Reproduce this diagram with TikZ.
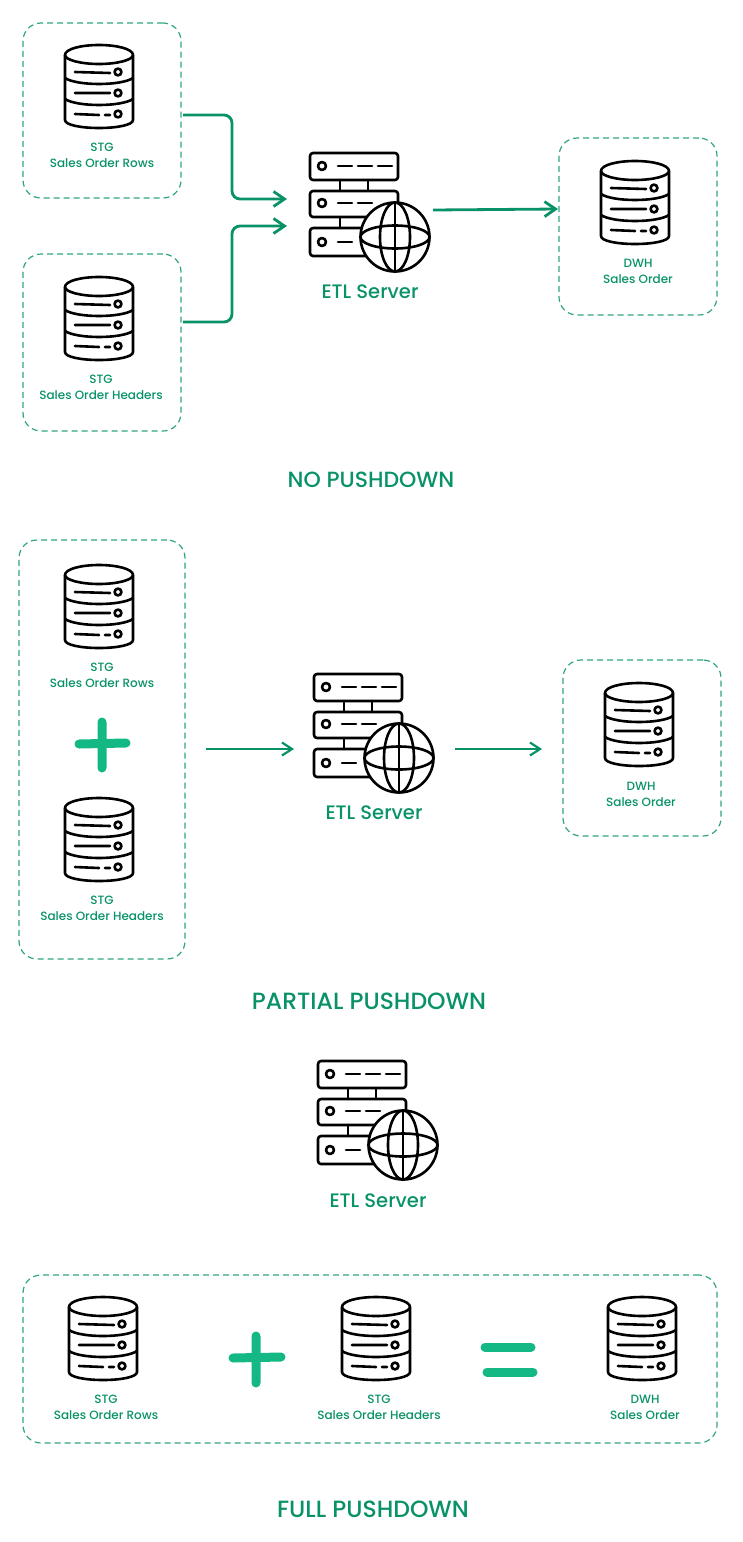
\documentclass[tikz,border=0pt]{standalone}
\usepackage{fontspec}
\setmainfont{Poppins Medium}
\usetikzlibrary{arrows.meta}
\definecolor{ink}{HTML}{099268}
\definecolor{dashc}{HTML}{2FA67F}
\definecolor{markc}{HTML}{14B885}
\tikzset{
  x=1pt,y=-1pt,
  dframe/.style={draw=dashc,line width=1.2pt,dash pattern=on 6pt off 4pt,rounded corners=18pt,inner sep=0pt},
  lbl/.style={text=ink,font=\fontsize{12}{16}\selectfont,align=center,inner sep=0pt},
  etl/.style={text=ink,font=\fontsize{19.5}{20}\selectfont,inner sep=0pt},
  ttl/.style={text=ink,font=\fontsize{22}{24}\selectfont,inner sep=0pt},
  ttlb/.style={text=ink,font=\fontsize{23.5}{24}\selectfont,inner sep=0pt},
  ico/.style={draw=black,line width=2.6pt,line cap=round,line join=round},
  flow/.style={draw=ink,line width=2.8pt,-{Straight Barb[length=11pt,width=15pt]},rounded corners=8pt},
  flowthin/.style={draw=ink,line width=2.2pt,-{Straight Barb[length=10pt,width=13pt]}},
  bar/.style={draw=markc,line width=9pt,line cap=round},
  pics/dbicon/.style={code={
    \draw[ico] (0,10) .. controls (0,4) and (16,0) .. (34,0) .. controls (52,0) and (68,4) .. (68,10)
      .. controls (68,15) and (52,19) .. (34,19) .. controls (16,19) and (0,15) .. (0,10) -- cycle;
    \draw[ico] (0,10) -- (0,75) .. controls (0,80) and (16,83) .. (34,83) .. controls (52,83) and (68,80) .. (68,75) -- (68,10);
    \draw[ico] (0,33) .. controls (6,37) and (20,39) .. (34,39) .. controls (48,39) and (62,37) .. (68,33);
    \draw[ico] (0,54) .. controls (6,58) and (20,60) .. (34,60) .. controls (48,60) and (62,58) .. (68,54);
    \draw[ico] (10,27) -- (45,28) (10,48) -- (45,48) (10,69) -- (34,70) (40,70) -- (45,70);
    \draw[ico] (53,27) circle[radius=3.4] (53,48) circle[radius=3.4] (53,69) circle[radius=3.4];
  }},
  pics/srvicon/.style={code={
    \draw[ico] (30,27) -- (30,38) (58,27) -- (58,38) (30,64) -- (30,75) (58,64) -- (58,75);
    \draw[ico,rounded corners=3pt] (0,0) rectangle (88,27) (0,38) rectangle (88,64) (0,75) rectangle (88,103);
    \draw[ico] (12,13) circle[radius=4] (12,50) circle[radius=4] (12,89) circle[radius=4];
    \draw[ico] (28,13) -- (42,13) (48,13) -- (62,13) (68,13) -- (82,13)
      (28,50) -- (42,50) (48,50) -- (62,50) (28,89) -- (42,89);
    \draw[ico,fill=white] (85,84) circle[radius=34.5];
    \draw[ico] (85,84) ellipse[x radius=15,y radius=34.5];
    \draw[ico] (85,49.5) -- (85,118.5);
    \draw[ico] (85,84) ellipse[x radius=34.5,y radius=11.5];
  }}
}
\begin{document}
\begin{tikzpicture}
\useasboundingbox (0,0) rectangle (742,1542);
% section 1 frames
\node[dframe,minimum width=158pt,minimum height=175pt] (f1) at (102,110.5) {};
\node[dframe,minimum width=158pt,minimum height=177pt] (f2) at (102,342.5) {};
\node[dframe,minimum width=158pt,minimum height=177pt] (f3) at (638,226.5) {};
\pic at (65,45) {dbicon};
\pic at (65,277) {dbicon};
\pic at (601,161) {dbicon};
\pic at (310,153) {srvicon};
\node[lbl] (t1) at (102,155) {STG\\Sales Order Rows};
\node[lbl] (t2) at (101,387) {STG\\Sales Order Headers};
\node[lbl] (t3) at (638,271) {DWH\\Sales Order};
\node[etl] (e1) at (370,292) {ETL Server};
\node[ttl] (h1) at (371,480) {NO PUSHDOWN};
\coordinate (a1s) at (183,115);
\coordinate (a1m) at (232,115);
\coordinate (a1n) at (232,199);
\coordinate (a1e) at (287,199);
\coordinate (a2s) at (183,322);
\coordinate (a2m) at (232,322);
\coordinate (a2n) at (232,226);
\coordinate (a2e) at (287,226);
\coordinate (a3s) at (433,210);
\coordinate (a3e) at (558,209);
\draw[flow] (a1s) -- (a1m) -- (a1n) -- (a1e);
\draw[flow] (a2s) -- (a2m) -- (a2n) -- (a2e);
\draw[flow] (a3s) -- (a3e);
% section 2
\node[dframe,minimum width=166pt,minimum height=419pt] (f4) at (102,749.5) {};
\node[dframe,minimum width=158pt,minimum height=176pt] (f5) at (642,748) {};
\pic at (65,565) {dbicon};
\pic at (65,798) {dbicon};
\pic at (605,683) {dbicon};
\pic at (314,674) {srvicon};
\node[lbl] (t4) at (102,675) {STG\\Sales Order Rows};
\node[lbl] (t5) at (102,908) {STG\\Sales Order Headers};
\node[lbl] (t6) at (641,794) {DWH\\Sales Order};
\node[etl] (e2) at (374,813) {ETL Server};
\node[ttlb] (h2) at (369,1001) {PARTIAL PUSHDOWN};
\draw[bar] (79,744) -- (126,743) (102,722) -- (102,768);
\coordinate (b1s) at (206,749);
\coordinate (b1e) at (294,749);
\coordinate (b2s) at (455,749);
\coordinate (b2e) at (542,749);
\draw[flowthin] (b1s) -- (b1e);
\draw[flowthin] (b2s) -- (b2e);
% section 3
\pic at (318,1061) {srvicon};
\node[etl] (e3) at (378,1201) {ETL Server};
\node[dframe,minimum width=694pt,minimum height=168pt] (f6) at (370,1359) {};
\pic at (69,1297) {dbicon};
\pic at (342,1297) {dbicon};
\pic at (608,1297) {dbicon};
\node[lbl] (t7) at (106,1407) {STG\\Sales Order Rows};
\node[lbl] (t8) at (379,1407) {STG\\Sales Order Headers};
\node[lbl] (t9) at (645,1407) {DWH\\Sales Order};
\draw[bar] (233,1358) -- (281,1357) (256,1336) -- (256,1383);
\draw[bar] (485,1347) -- (531,1347) (487,1372) -- (533,1372);
\node[ttlb] (h3) at (373,1509) {FULL PUSHDOWN};
\end{tikzpicture}
\end{document}
